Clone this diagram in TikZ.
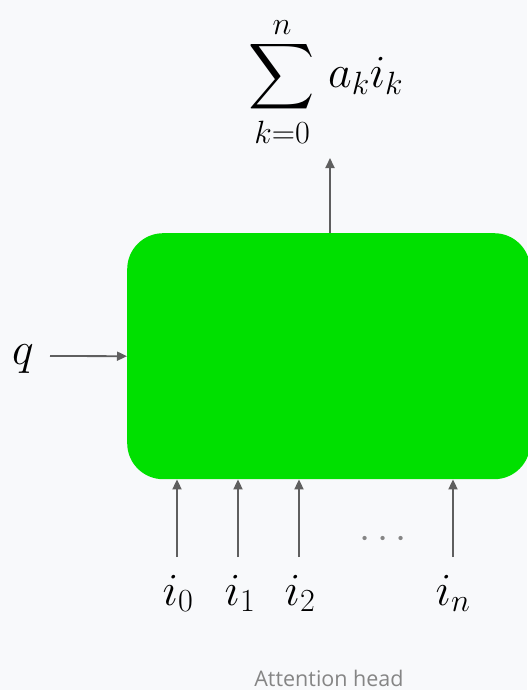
\RequirePackage{fix-cm}
\documentclass[tikz,border=0pt]{standalone}
\usepackage{exscale}
\DeclareFontShape{OMX}{cmex}{m}{n}{<-7.5>cmex7<7.5-8.5>cmex8<8.5-9.5>cmex9<9.5->cmex10}{}
\usepackage{fontspec}
\usetikzlibrary{arrows.meta}
\newfontfamily\labelfont{Open Sans}[Ligatures=NoCommon]
\definecolor{bg}{HTML}{F8F9FB}
\definecolor{boxgreen}{RGB}{0,224,0}
\definecolor{arrgray}{HTML}{5F5F5F}
\definecolor{txtgray}{HTML}{858585}
\begin{document}
\begin{tikzpicture}[x=1pt,y=-1pt,
  arr/.style={draw=arrgray, line width=1.8pt, -{Triangle[length=10pt,width=9pt]}},
  mathlbl/.style={inner sep=0pt, anchor=base, font=\fontsize{46}{50}\selectfont},
]
\fill[bg] (0,0) rectangle (527,690);
\useasboundingbox (0,0) rectangle (527,690);

\node[fill=boxgreen, rounded corners=36pt, minimum width=403pt, minimum height=246pt,
      inner sep=0pt, anchor=north west] (box) at (127,233) {};

\node[mathlbl] (sum) at (326,88) {$\displaystyle\sum_{k=0}^{\raisebox{-5pt}{$\scriptstyle n$}}\mkern2mu a_k i_k$};
\coordinate (sumtip) at (330,158);
\draw[arr] (sumtip |- box.north) -- (sumtip);

\node[mathlbl] (q) at (23,364) {$q$};
\coordinate (qtail) at (50,356);
\draw[arr] (qtail) -- (box.west);

\foreach \x/\lab/\lx/\nm in {177/0/178/a, 238/1/240/b, 299/2/300/c, 453/n/453/d}{
  \coordinate (t\nm) at (\x,557);
  \draw[arr] (t\nm) -- (t\nm |- box.south);
  \node[mathlbl] (i\nm) at (\lx,605) {$i_{\lab}$};
}

\node[inner sep=0pt, anchor=base, text=txtgray, font=\fontsize{40}{44}\selectfont] (dots) at (383,548) {$\cdots$};

\node[inner sep=0pt, anchor=base, text=txtgray, font=\labelfont\fontsize{21.5}{25}\selectfont] (title) at (329,686) {Attention head};
\end{tikzpicture}
\end{document}
